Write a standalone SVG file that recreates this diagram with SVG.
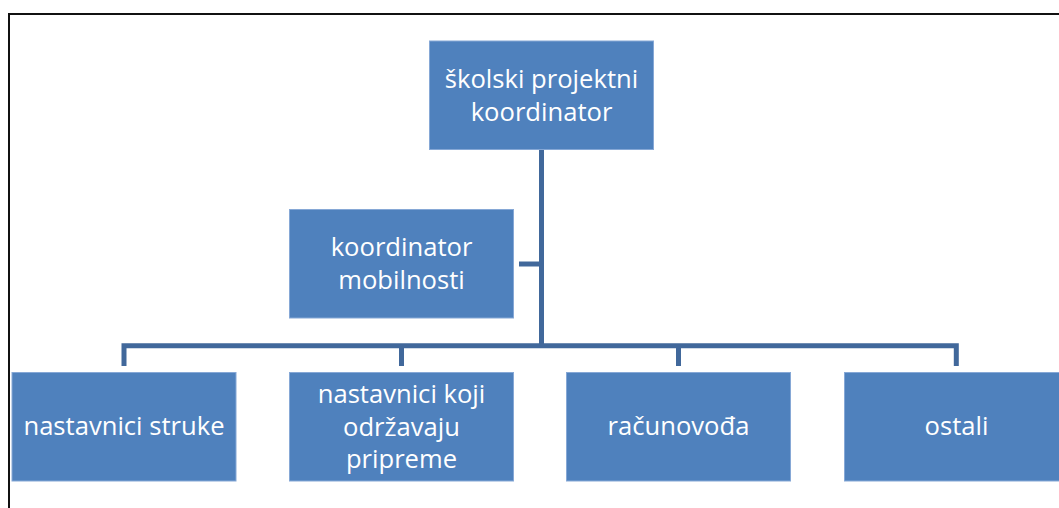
<svg xmlns="http://www.w3.org/2000/svg" width="1059" height="508" viewBox="0 0 1059 508">
<style>
.box{fill:#4F81BD;stroke:#86A8D6;stroke-width:1}
.lbl{fill:#FFFFFF;font-family:"Open Sans","Noto Sans","Liberation Sans",sans-serif;font-size:25.6px;text-anchor:middle}
.conn{fill:none;stroke:#41689B;stroke-width:5;stroke-linejoin:miter}
</style>
<rect width="1059" height="508" fill="#FFFFFF"/>
<path d="M9,508 V14 H1059" fill="none" stroke="#111111" stroke-width="2"/>
<g id="connectors">
<path class="conn" d="M541.5,149 V346"/>
<path class="conn" d="M519,264 H541.5"/>
<path class="conn" d="M124,366 V345.8 H956.3 V366"/>
<path class="conn" d="M401.5,345.8 V366"/>
<path class="conn" d="M678.5,345.8 V366"/>
</g>
<g id="node-skolski">
<rect class="box" x="429.5" y="41" width="224" height="108.5"/>
<text class="lbl" x="541.5" y="88">školski projektni</text>
<text class="lbl" x="541.5" y="121">koordinator</text>
</g>
<g id="node-mobilnosti">
<rect class="box" x="289.5" y="209.5" width="224" height="108.5"/>
<text class="lbl" x="401.5" y="256">koordinator</text>
<text class="lbl" x="401.5" y="289">mobilnosti</text>
</g>
<g id="node-struke">
<rect class="box" x="12" y="372.5" width="224" height="108.5"/>
<text class="lbl" x="124" y="435">nastavnici struke</text>
</g>
<g id="node-pripreme">
<rect class="box" x="289.5" y="372.5" width="224" height="108.5"/>
<text class="lbl" x="401.5" y="403">nastavnici koji</text>
<text class="lbl" x="401.5" y="436">održavaju</text>
<text class="lbl" x="401.5" y="468">pripreme</text>
</g>
<g id="node-racunovoda">
<rect class="box" x="566.5" y="372.5" width="224" height="108.5"/>
<text class="lbl" x="678.5" y="435">računovođa</text>
</g>
<g id="node-ostali">
<rect class="box" x="844.5" y="372.5" width="224" height="108.5"/>
<text class="lbl" x="956.5" y="435">ostali</text>
</g>
</svg>
